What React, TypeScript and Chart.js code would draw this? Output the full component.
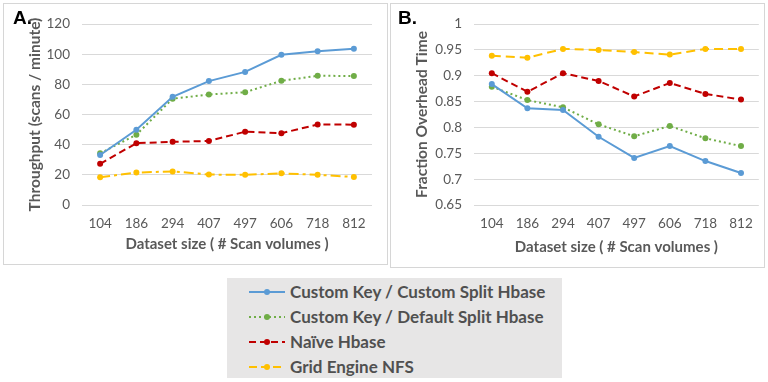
import React, { useEffect, useRef } from "react";
import { Chart, registerables } from "chart.js";

Chart.register(...registerables);

const categories = ["104", "186", "294", "407", "497", "606", "718", "812"];

const seriesNames = [
  "Custom Key / Custom Split Hbase",
  "Custom Key / Default Split Hbase",
  "Naïve Hbase",
  "Grid Engine NFS",
];

const throughputCustomSplit = [33.2, 49.9, 71.8, 82.2, 88.3, 99.6, 102, 103.6];
const throughputDefaultSplit = [34.3, 46.6, 70.5, 73.3, 74.8, 82.4, 85.7, 85.6];
const throughputNaive = [27.3, 41, 41.9, 42.5, 48.6, 47.6, 53.4, 53.3];
const throughputNFS = [18.4, 21.5, 22.3, 20.2, 20, 21, 20, 18.6];

const overheadCustomSplit = [0.884, 0.837, 0.834, 0.782, 0.741, 0.764, 0.735, 0.712];
const overheadDefaultSplit = [0.879, 0.853, 0.839, 0.806, 0.783, 0.803, 0.779, 0.764];
const overheadNaive = [0.905, 0.869, 0.905, 0.89, 0.86, 0.886, 0.865, 0.854];
const overheadNFS = [0.939, 0.935, 0.952, 0.95, 0.946, 0.941, 0.952, 0.952];

const colors = ["#5B9BD5", "#70AD47", "#C00000", "#FFC000"];
const dashesA = [[], [2, 3], [7, 4], [10, 4, 3, 4]];
const dashesB = [[], [2, 3], [7, 4], [9, 5]];

const FONT = "Lato, 'Open Sans', sans-serif";
const TEXT = "#595959";

function makeDatasets(values: number[][], dashes: number[][]) {
  return values.map((v, i) => ({
    label: seriesNames[i],
    data: v,
    borderColor: colors[i],
    backgroundColor: colors[i],
    borderWidth: 2,
    borderDash: dashes[i],
    pointRadius: 3,
    pointBorderWidth: 0,
    pointBackgroundColor: colors[i],
    tension: 0,
  }));
}

type PanelProps = {
  values: number[][];
  dashes: number[][];
  min: number;
  max: number;
  step: number;
  yTitle: string;
  yWidth: number;
  padRight: number;
  width: number;
  height: number;
  fmt: (v: number) => string;
};

function Panel(p: PanelProps) {
  const ref = useRef<HTMLCanvasElement>(null);
  useEffect(() => {
    const chart = new Chart(ref.current!, {
      type: "line",
      data: { labels: categories, datasets: makeDatasets(p.values, p.dashes) as any },
      options: {
        animation: false,
        responsive: false,
        layout: { padding: { left: 0, right: p.padRight, top: 17, bottom: 0 } },
        plugins: { legend: { display: false }, tooltip: { enabled: false } },
        scales: {
          x: {
            offset: true,
            grid: { display: false, drawTicks: false },
            border: { display: false },
            ticks: { color: TEXT, font: { family: FONT, size: 13.5 }, padding: 11 },
            title: {
              display: true,
              text: "Dataset size ( # Scan volumes )",
              color: TEXT,
              font: { family: FONT, size: 15, weight: "bold" },
              padding: { top: 0, bottom: 11 },
            },
            afterFit: (s: any) => {
              s.height = p.height - 201;
            },
          },
          y: {
            min: p.min,
            max: p.max,
            grid: { color: "#d9d9d9", drawTicks: false, lineWidth: 1 },
            border: { display: false },
            ticks: {
              stepSize: p.step,
              color: TEXT,
              font: { family: FONT, size: 13.5 },
              padding: 12,
              callback: (v: any) => p.fmt(Number(v)),
            },
            title: {
              display: true,
              text: p.yTitle,
              color: TEXT,
              font: { family: FONT, size: 15.5, weight: "bold" },
              padding: { top: 22, bottom: 0 },
            },
            afterFit: (s: any) => {
              s.width = p.yWidth;
            },
          },
        },
      },
    });
    return () => chart.destroy();
  }, []);
  return <canvas ref={ref} width={p.width} height={p.height} style={{ display: "block" }} />;
}

function LegendRow({ i }: { i: number }) {
  const dash = dashesA[i].length ? dashesA[i].join(" ") : undefined;
  const d = i === 3 ? "8 4" : dash;
  return (
    <div style={{ display: "flex", alignItems: "center", height: 25 }}>
      <svg width={38} height={12} style={{ marginLeft: 22, marginRight: 3 }}>
        <line x1={0} y1={6} x2={36} y2={6} stroke={colors[i]} strokeWidth={2} strokeDasharray={d} />
        <circle cx={18} cy={6} r={3} fill={colors[i]} />
      </svg>
      <span style={{ fontFamily: FONT, fontWeight: 700, fontSize: 17, color: "#505050", whiteSpace: "nowrap" }}>
        {seriesNames[i]}
      </span>
    </div>
  );
}

export default function App() {
  const border = "1px solid #d6d6d6";
  return (
    <div style={{ position: "fixed", left: 0, top: 0, width: 768, height: 382, background: "#fff" }}>
      <div style={{ position: "absolute", left: 3, top: 3, width: 385, height: 262, border, boxSizing: "border-box" }}>
        <Panel
          values={[throughputCustomSplit, throughputDefaultSplit, throughputNaive, throughputNFS]}
          dashes={dashesA}
          min={0}
          max={120}
          step={20}
          yTitle="Throughput (scans / minute)"
          yWidth={78}
          padRight={15}
          width={383}
          height={260}
          fmt={(v) => String(v)}
        />
        <div style={{ position: "absolute", left: 9, top: 3, fontFamily: "'Liberation Sans', Arial, sans-serif", fontWeight: 700, fontSize: 19, color: "#000" }}>A.</div>
      </div>
      <div style={{ position: "absolute", left: 390, top: 3, width: 375, height: 265, border, boxSizing: "border-box" }}>
        <Panel
          values={[overheadCustomSplit, overheadDefaultSplit, overheadNaive, overheadNFS]}
          dashes={dashesB}
          min={0.65}
          max={1}
          step={0.05}
          yTitle="Fraction Overhead Time"
          yWidth={83}
          padRight={4}
          width={373}
          height={263}
          fmt={(v) => String(Number(v.toFixed(2)))}
        />
        <div style={{ position: "absolute", left: 7, top: 3, fontFamily: "'Liberation Sans', Arial, sans-serif", fontWeight: 700, fontSize: 19, color: "#000" }}>B.</div>
      </div>
      <div style={{ position: "absolute", left: 227, top: 278, width: 335, height: 100, background: "#e7e6e6", paddingTop: 1, boxSizing: "border-box" }}>
        {[0, 1, 2, 3].map((i) => (
          <LegendRow key={i} i={i} />
        ))}
      </div>
    </div>
  );
}
